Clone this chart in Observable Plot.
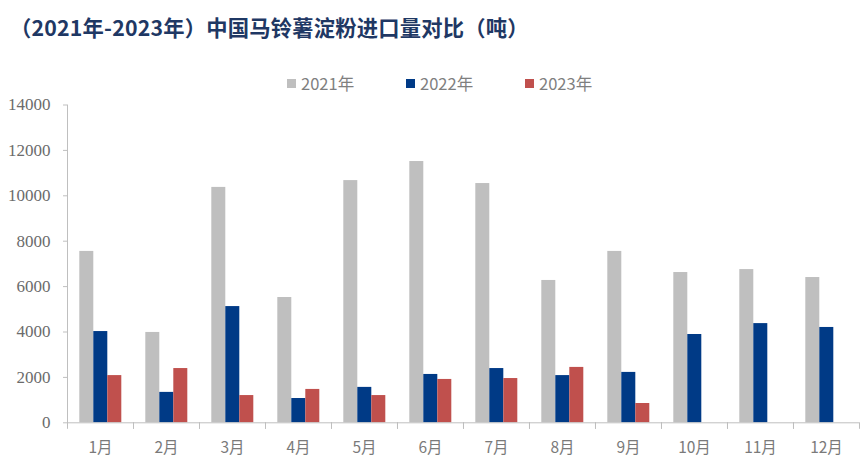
<!DOCTYPE html>
<html>
<head>
<meta charset="utf-8">
<script src="https://cdn.jsdelivr.net/npm/d3@7"></script>
<script src="https://cdn.jsdelivr.net/npm/@observablehq/plot@0.6"></script>
<style>
  html, body { margin: 0; padding: 0; background: #ffffff; }
  body { position: relative; width: 865px; height: 461px; overflow: hidden; font-family: "Noto Sans CJK SC", "Noto Sans", sans-serif; }
  #title { position: absolute; left: 10px; top: 15px; font-size: 21.3px; line-height: 24px; font-weight: 700; color: #1f3864; white-space: nowrap; letter-spacing: 0.2px; }
  #legend { position: absolute; left: 287px; top: 73px; display: flex; align-items: center; height: 20px; }
  .item { display: flex; align-items: center; width: 119px; font-size: 16.5px; color: #7f7f7f; font-family: "Noto Sans CJK SC", sans-serif; }
  .sw { width: 9px; height: 9px; margin-right: 5px; flex: none; }
  #chart { position: absolute; left: 0; top: 95px; }
  #chart svg g[aria-label="y-axis tick label"] text { font-family: "Liberation Serif", "DejaVu Serif", serif; }
</style>
</head>
<body>
<div id="title">（2021年-2023年）中国马铃薯淀粉进口量对比（吨）</div>
<div id="legend"></div>
<div id="chart"></div>
<script>
// ---- data ----
const months = ["1月","2月","3月","4月","5月","6月","7月","8月","9月","10月","11月","12月"];
const years = ["2021年","2022年","2023年"];
const colors = ["#bfbfbf","#003a86","#c0504d"];
const v2021 = [7550, 3980, 10370, 5520, 10670, 11510, 10540, 6270, 7550, 6620, 6750, 6400];
const v2022 = [4020, 1340, 5120, 1070, 1560, 2130, 2390, 2080, 2220, 3890, 4370, 4200];
const v2023 = [2080, 2390, 1200, 1470, 1200, 1910, 1950, 2440, 850, null, null, null];
const yTicks = [0, 2000, 4000, 6000, 8000, 10000, 12000, 14000];

const series = [v2021, v2022, v2023];
const data = [];
months.forEach((m, i) => {
  years.forEach((y, j) => {
    const v = series[j][i];
    if (v != null) data.push({month: m, year: y, value: v});
  });
});

// legend
const legend = document.getElementById("legend");
years.forEach((y, j) => {
  const it = document.createElement("div");
  it.className = "item";
  const sw = document.createElement("span");
  sw.className = "sw";
  sw.style.background = colors[j];
  const t = document.createElement("span");
  t.textContent = y;
  it.appendChild(sw); it.appendChild(t);
  legend.appendChild(it);
});

const H = 366, mt = 9.5, mb = 38.7;
const plotH = H - mt - mb;
const axisColor = "#bfbfbf";

const chart = Plot.plot({
  width: 865,
  height: H,
  marginTop: mt,
  marginBottom: mb,
  marginLeft: 65.7,
  marginRight: 5,
  style: {background: "transparent", fontFamily: "\"Noto Sans CJK SC\", sans-serif"},
  fx: {domain: months, padding: 0, label: null},
  x: {domain: years, paddingInner: 0, paddingOuter: 0.757, axis: null},
  y: {domain: [0, 14000], label: null},
  color: {domain: years, range: colors},
  marks: [
    Plot.barY(data, {fx: "month", x: "year", y: "value", fill: "year"}),
    Plot.ruleY([0], {stroke: axisColor}),
    Plot.frame({anchor: "left", stroke: axisColor, insetTop: plotH, insetBottom: -5.5}),
    Plot.frame({anchor: "right", stroke: axisColor, insetTop: plotH, insetBottom: -5.5}),
    Plot.frame({anchor: "left", stroke: axisColor, facetAnchor: "left"}),
    Plot.axisY({ticks: yTicks, tickFormat: d => String(d), tickSize: 4, tickPadding: 13, stroke: axisColor, fill: "#6b6b6b", fontSize: 17, fontFamily: "Liberation Serif, serif", label: null}),
    Plot.axisFx({anchor: "bottom", tickSize: 0, tickPadding: 19, fill: "#7a7a7a", fontSize: 15.5, label: null})
  ]
});
document.getElementById("chart").appendChild(chart);
</script>
</body>
</html>
